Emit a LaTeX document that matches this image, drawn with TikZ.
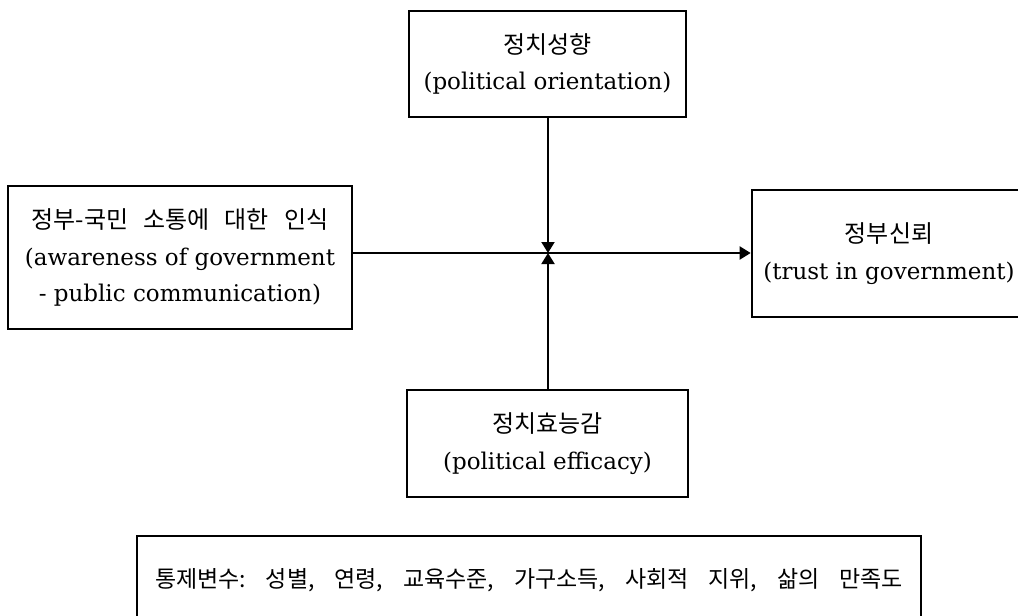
\documentclass[tikz,border=0pt]{standalone}
\usepackage{fontspec}
\setmainfont{DejaVu Serif}
\newfontfamily\kr[WordSpace=2.8]{Noto Sans CJK KR}
\usetikzlibrary{arrows.meta}
\tikzset{
  boxnode/.style={draw=black, line width=2.6pt, align=center, inner sep=0pt,
    font=\fontsize{23}{36.5}\selectfont},
  arr/.style={line width=1.9pt, -{Triangle[length=11pt,width=13pt]}}
}
\newcommand{\krtext}[1]{{\kr\fontsize{24}{36.5}\selectfont #1}}
\begin{document}
\begin{tikzpicture}[x=1pt,y=-1pt]
\useasboundingbox (0,0) rectangle (1018,616);
\clip (0,0) rectangle (1018,616);
\fill[white] (0,0) rectangle (1018,616);
\node[boxnode, minimum width=277pt, minimum height=106pt] (tb) at (547.5,64) {\krtext{정치성향}\\(political orientation)};
\node[boxnode, minimum width=344pt, minimum height=143pt] (lb) at (180,257.5) {\krtext{정부-국민 소통에 대한 인식}\\(awareness of government\\- public communication)};
\node[boxnode, minimum width=274pt, minimum height=127pt] (rb) at (889,253.5) {\krtext{정부신뢰}\\(trust in government)};
\node[boxnode, minimum width=281pt, minimum height=107pt] (bb) at (547.5,443.5) {\krtext{정치효능감}\\(political efficacy)};
\node[boxnode, minimum width=784pt, minimum height=88pt] (cb) at (529,580) {\kr\fontsize{23}{30}\selectfont\hbox to 748pt{통제변수:\hfill 성별,\hfill 연령,\hfill 교육수준,\hfill 가구소득,\hfill 사회적\hfill 지위,\hfill 삶의\hfill 만족도}};
\coordinate (X) at (548,253);
\draw[arr] (lb.east |- X) -- (rb.west |- X);
\draw[arr] (tb.south -| X) -- (X);
\draw[arr] (bb.north -| X) -- (X);
\end{tikzpicture}
\end{document}
